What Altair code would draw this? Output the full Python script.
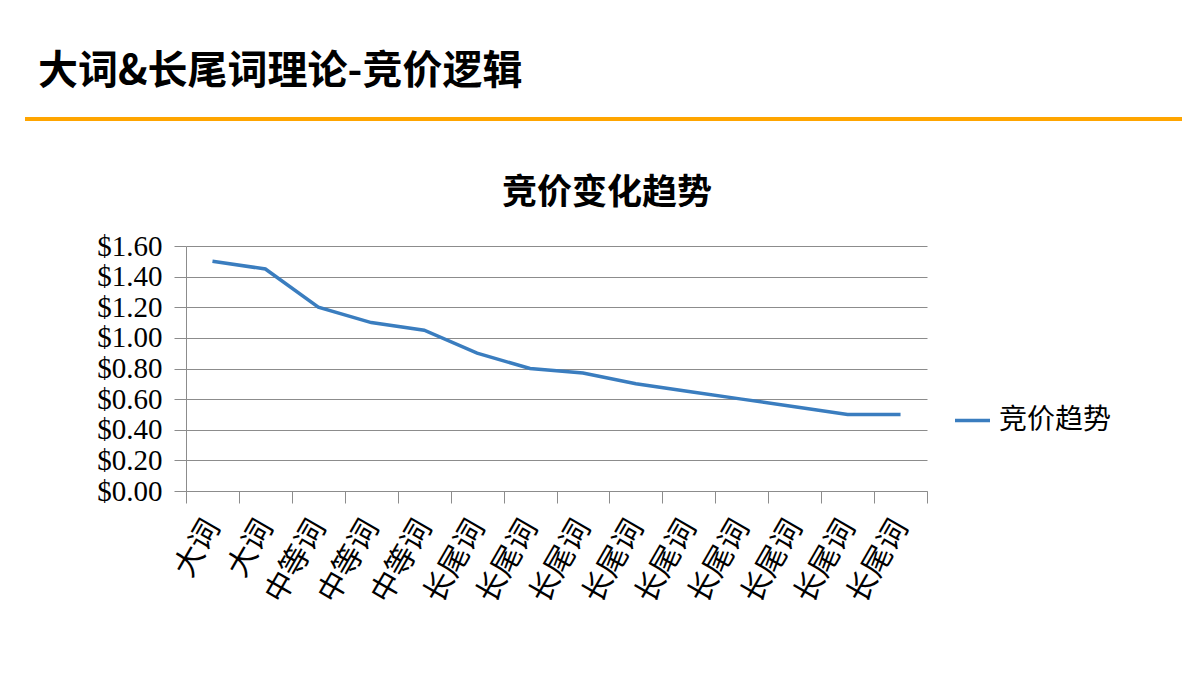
import altair as alt
import pandas as pd

# ---- data ----
categories = ['大词', '大词', '中等词', '中等词', '中等词',
              '长尾词', '长尾词', '长尾词', '长尾词', '长尾词',
              '长尾词', '长尾词', '长尾词', '长尾词']
values = [1.50, 1.45, 1.20, 1.10, 1.05, 0.90, 0.80, 0.77,
          0.70, 0.65, 0.60, 0.55, 0.50, 0.50]
series_name = '竞价趋势'
page_title = '大词&长尾词理论-竞价逻辑'
chart_title = '竞价变化趋势'
y_ticks = [0.0, 0.2, 0.4, 0.6, 0.8, 1.0, 1.2, 1.4, 1.6]

df = pd.DataFrame({
    'idx': list(range(len(values))),
    'cat': categories,
    'value': values,
    'series': [series_name] * len(values),
})

label_expr = "[" + ",".join("'%s'" % c for c in categories) + "][datum.value]"

GRAY = '#8c8c8c'
CJK = 'Noto Sans CJK SC'

line = alt.Chart(df).mark_line(strokeWidth=3.5).encode(
    x=alt.X('idx:O', bandPosition=0.5,
            scale=alt.Scale(type='band', paddingInner=0, paddingOuter=0),
            axis=alt.Axis(title=None, labelExpr=label_expr, labelAngle=-60,
                          labelAlign='right', labelBaseline='middle',
                          labelFont=CJK, labelFontSize=30, labelColor='black',
                          labelFontWeight='normal',
                          tickBand='extent', tickSize=12, tickColor=GRAY,
                          domainColor=GRAY, labelPadding=19, grid=False)),
    y=alt.Y('value:Q', scale=alt.Scale(domain=[0, 1.6], nice=False),
            axis=alt.Axis(title=None, values=y_ticks, format='$.2f',
                          labelFont='Liberation Serif', labelFontSize=29,
                          labelColor='black', tickSize=12, tickColor=GRAY,
                          domainColor=GRAY, gridColor=GRAY, labelPadding=12)),
    color=alt.Color('series:N', scale=alt.Scale(range=['#3a7dbf']),
                    legend=alt.Legend(title=None, orient='none', legendX=767,
                                      legendY=155, symbolType='stroke',
                                      symbolSize=1225, symbolStrokeWidth=3.5,
                                      labelFont=CJK, labelFontSize=28,
                                      labelColor='black', labelOffset=7,
                                      padding=0)),
)

texts = pd.DataFrame({'t': [page_title]})

header = alt.Chart(texts).mark_text(
    font=CJK, fontSize=40, fontWeight='bold', align='left',
    baseline='middle', color='black'
).encode(text=alt.value(page_title), x=alt.value(-148), y=alt.value(-174))

ctitle = alt.Chart(texts).mark_text(
    font=CJK, fontSize=35, fontWeight='bold', align='center',
    baseline='middle', color='black'
).encode(text=alt.value(chart_title), x=alt.value(421), y=alt.value(-53))

rule = alt.Chart(texts).mark_rule(
    color='#FFA500', strokeWidth=4
).encode(x=alt.value(-161), x2=alt.value(996), y=alt.value(-127))

chart = alt.layer(rule, header, ctitle, line).properties(
    width=741, height=245,
    autosize=alt.AutoSizeParams(type='none'),
    padding={'left': 178, 'top': 238, 'right': 255, 'bottom': 165},
).configure_view(strokeWidth=0)

chart.save('out.html', embed_options={'renderer': 'svg', 'actions': False})
